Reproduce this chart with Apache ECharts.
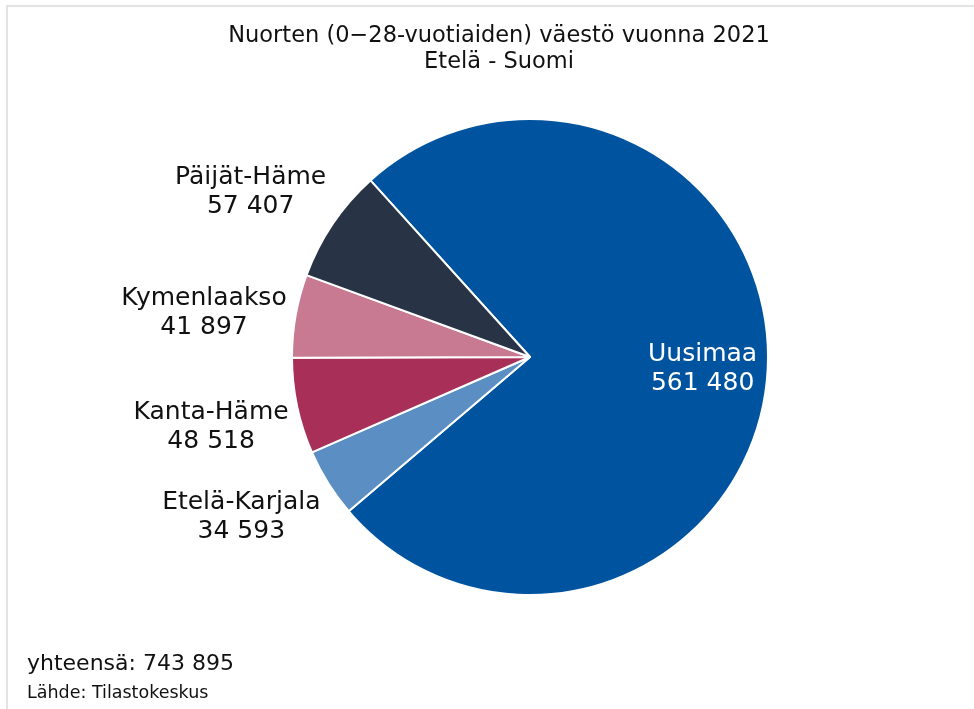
<!DOCTYPE html>
<html>
<head>
<meta charset="utf-8">
<script src="https://cdn.jsdelivr.net/npm/echarts@6/dist/echarts.min.js"></script>
<style>
  html, body { margin: 0; padding: 0; background: #fff; }
  #chart { width: 974px; height: 709px; }
</style>
</head>
<body>
<div id="chart"></div>
<script>
// data
const regions = ['Uusimaa', 'Etelä-Karjala', 'Kanta-Häme', 'Kymenlaakso', 'Päijät-Häme']
const population = [561480, 34593, 48518, 41897, 57407]
const colors = ['#00549f', '#5b8fc3', '#a83058', '#c77a92', '#283445']
const total = 743895

// small nudges of the labels (styling only)
const labelNudge = {
  'Uusimaa': [-4, 0],
  'Etelä-Karjala': [-8, -15],
  'Kanta-Häme': [5, 2],
  'Kymenlaakso': [0, 13],
  'Päijät-Häme': [-5, 20]
}

const fmt = v => String(v).replace(/\B(?=(\d{3})+(?!\d))/g, ' ')

const chart = echarts.init(document.getElementById('chart'))

const center = [530, 357]
const startAngle = 132.1

// visible slices
const pieData = regions.map((name, i) => ({
  name: name,
  value: population[i],
  itemStyle: { color: colors[i] }
}))

// transparent rings that only carry the labels
const ringData = (showFn) => regions.map((name, i) => ({
  name: name,
  value: population[i],
  itemStyle: { color: 'transparent' },
  label: { show: showFn(i), offset: labelNudge[name] || [0, 0] }
}))

const labelStyle = {
  position: 'inside',
  formatter: p => p.name + '\n' + fmt(p.value),
  fontFamily: 'DejaVu Sans',
  fontSize: 25,
  lineHeight: 29,
  align: 'center',
  color: '#111'
}

const option = {
  backgroundColor: '#fff',
  animation: false,
  title: {
    text: 'Nuorten (0\u221228-vuotiaiden) väestö vuonna 2021\nEtelä - Suomi',
    left: 494,
    top: 18,
    textAlign: 'center',
    textStyle: {
      fontFamily: 'DejaVu Sans',
      fontWeight: 'normal',
      fontSize: 22.5,
      lineHeight: 26,
      color: '#111'
    }
  },
  graphic: [
    { type: 'line', shape: { x1: 6, y1: 6, x2: 974, y2: 6 }, style: { stroke: '#e3e3e3', lineWidth: 2 } },
    { type: 'line', shape: { x1: 7, y1: 6, x2: 7, y2: 709 }, style: { stroke: '#e3e3e3', lineWidth: 2 } },
    {
      type: 'text', left: 27, top: 653,
      style: { text: 'yhteensä: ' + fmt(total), font: '22px "DejaVu Sans"', fill: '#111' }
    },
    {
      type: 'text', left: 27, top: 684,
      style: { text: 'Lähde: Tilastokeskus', font: '17.5px "DejaVu Sans"', fill: '#111' }
    }
  ],
  series: [
    {
      type: 'pie',
      center: center,
      radius: 238,
      startAngle: startAngle,
      clockwise: true,
      silent: true,
      label: { show: false },
      labelLine: { show: false },
      itemStyle: { borderColor: '#fff', borderWidth: 2 },
      data: pieData
    },
    {
      type: 'pie',
      center: center,
      radius: [318, 338],
      startAngle: startAngle,
      clockwise: true,
      silent: true,
      label: labelStyle,
      labelLine: { show: false },
      data: ringData(i => i > 0)
    },
    {
      type: 'pie',
      center: center,
      radius: [164, 184],
      startAngle: startAngle,
      clockwise: true,
      silent: true,
      label: Object.assign({}, labelStyle, { color: '#fff' }),
      labelLine: { show: false },
      data: ringData(i => i === 0)
    }
  ]
}

chart.setOption(option)
</script>
</body>
</html>
